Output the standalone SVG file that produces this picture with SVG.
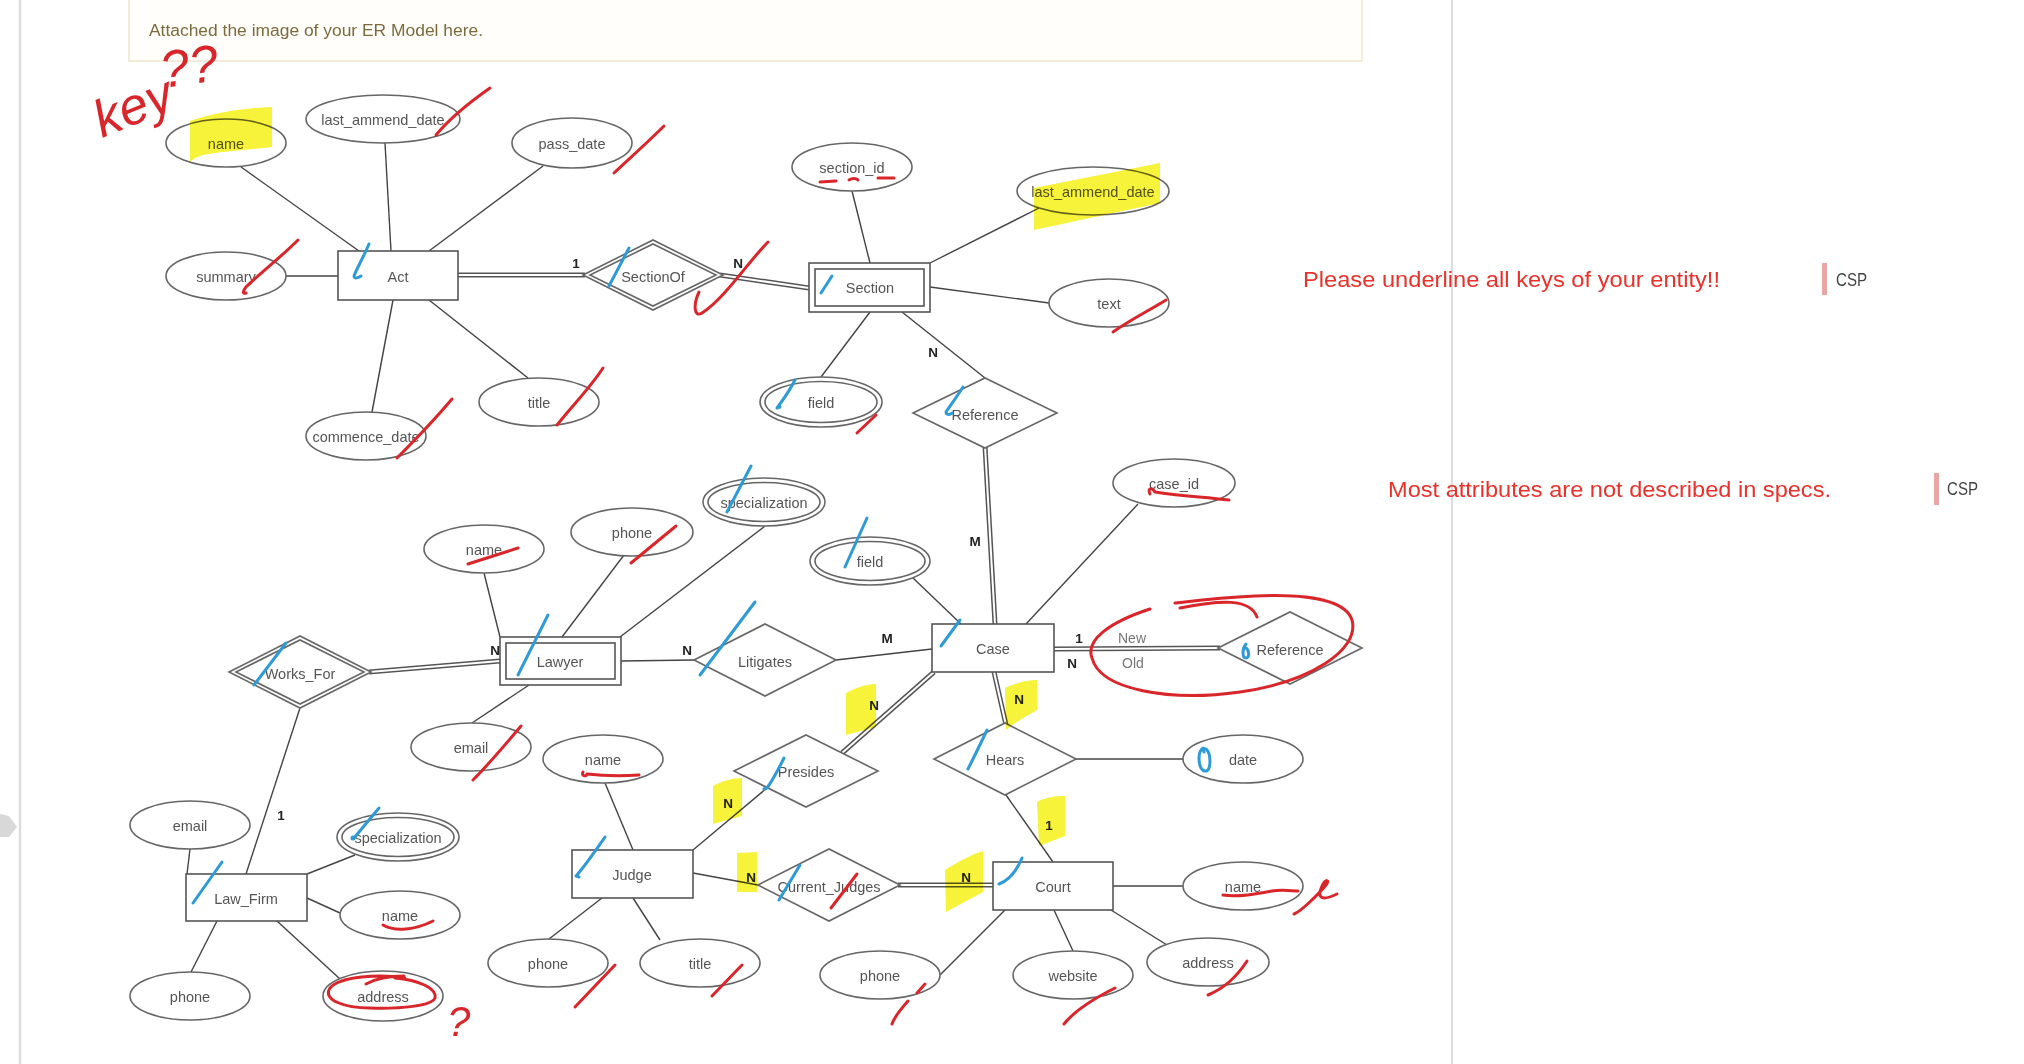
<svg xmlns="http://www.w3.org/2000/svg" width="2024" height="1064" viewBox="0 0 2024 1064">
<style>
.ent{fill:#fff;stroke:#555;stroke-width:1.6}
.attr{fill:#fff;stroke:#666;stroke-width:1.6}
.rel{fill:#fff;stroke:#666;stroke-width:1.6}
.t{font-family:"Liberation Sans",Arial,sans-serif;font-size:14.5px;fill:#555;text-anchor:middle;dominant-baseline:central}
.lbl{font-family:"Liberation Sans",Arial,sans-serif;font-size:13.5px;font-weight:bold;fill:#222;text-anchor:middle;dominant-baseline:central}
.role{font-family:"Liberation Sans",Arial,sans-serif;font-size:14px;fill:#777;text-anchor:middle;dominant-baseline:central}
.ln{stroke:#444;stroke-width:1.4;fill:none}
.dbo{stroke:#555;stroke-width:5;fill:none}
.dbi{stroke:#fff;stroke-width:2;fill:none}
.red{stroke:#d9262b;stroke-width:3;fill:none;stroke-linecap:round;stroke-linejoin:round}
.blue{stroke:#2e9ad6;stroke-width:3;fill:none;stroke-linecap:round;stroke-linejoin:round}
.hl{fill:#f7f23a;mix-blend-mode:multiply}
.note{font-family:"Liberation Sans",Arial,sans-serif;font-size:22px;fill:#e8322b}
.csp{font-family:"Liberation Sans",Arial,sans-serif;font-size:18px;fill:#444}
.hand{font-family:"Liberation Sans",Arial,sans-serif;font-style:italic;fill:#d9262b}
</style>
<rect width="2024" height="1064" fill="#fff"/>
<!-- page chrome -->
<line x1="20" y1="0" x2="20" y2="1064" stroke="#ddd" stroke-width="2.5"/>
<line x1="1452" y1="0" x2="1452" y2="1064" stroke="#ddd" stroke-width="2"/>
<polygon points="0,814 9,816 17,827 9,837 0,837" fill="#d8d8d8"/>
<rect x="129" y="-2" width="1233" height="63" fill="#fffefb" stroke="#f1e6cf" stroke-width="1.5"/>
<text x="149" y="36" font-family="Liberation Sans,Arial,sans-serif" font-size="16" fill="#7d6a3c" textLength="334" lengthAdjust="spacingAndGlyphs">Attached the image of your ER Model here.</text>

<!-- comments -->
<text class="note" x="1303" y="287" textLength="417" lengthAdjust="spacingAndGlyphs">Please underline all keys of your entity!!</text>
<rect x="1822" y="263" width="5" height="32" fill="#e9a6a6"/>
<text class="csp" x="1836" y="286" textLength="31" lengthAdjust="spacingAndGlyphs">CSP</text>
<text class="note" x="1388" y="497" textLength="443" lengthAdjust="spacingAndGlyphs">Most attributes are not described in specs.</text>
<rect x="1934" y="473" width="5" height="32" fill="#e9a6a6"/>
<text class="csp" x="1947" y="495" textLength="31" lengthAdjust="spacingAndGlyphs">CSP</text>

<!-- connectors -->
<g id="connectors">
<line class="ln" x1="241" y1="167" x2="359" y2="251"/>
<line class="ln" x1="385" y1="143" x2="391" y2="251"/>
<line class="ln" x1="543" y1="166" x2="429" y2="251"/>
<line class="ln" x1="286" y1="276" x2="338" y2="276"/>
<line class="ln" x1="372" y1="412" x2="393" y2="300"/>
<line class="ln" x1="528" y1="378" x2="429" y2="300"/>
<line class="dbo" x1="458" y1="275" x2="585" y2="275"/><line class="dbi" x1="458" y1="275" x2="585" y2="275"/>
<line class="dbo" x1="720" y1="275" x2="809" y2="288"/><line class="dbi" x1="720" y1="275" x2="809" y2="288"/>
<line class="ln" x1="852" y1="191" x2="870" y2="263"/>
<line class="ln" x1="1039" y1="208" x2="930" y2="263"/>
<line class="ln" x1="930" y1="287" x2="1049" y2="303"/>
<line class="ln" x1="821" y1="377" x2="870" y2="312"/>
<line class="ln" x1="902" y1="312" x2="985" y2="378"/>
<line class="dbo" x1="985" y1="446" x2="995" y2="624"/><line class="dbi" x1="985" y1="446" x2="995" y2="624"/>
<line class="ln" x1="1138" y1="504" x2="1026" y2="624"/>
<line class="ln" x1="912" y1="577" x2="961" y2="624"/>
<line class="ln" x1="836" y1="660" x2="932" y2="649"/>
<line class="dbo" x1="1054" y1="649" x2="1220" y2="648"/><line class="dbi" x1="1054" y1="649" x2="1220" y2="648"/>
<line class="dbo" x1="934" y1="672" x2="842" y2="753"/><line class="dbi" x1="934" y1="672" x2="842" y2="753"/>
<line class="dbo" x1="994" y1="672" x2="1006" y2="725"/><line class="dbi" x1="994" y1="672" x2="1006" y2="725"/>
<line class="ln" x1="484" y1="573" x2="500" y2="637"/>
<line class="ln" x1="624" y1="555" x2="562" y2="637"/>
<line class="ln" x1="765" y1="526" x2="620" y2="637"/>
<line class="ln" x1="472" y1="723" x2="529" y2="685"/>
<line class="ln" x1="621" y1="661" x2="694" y2="660"/>
<line class="dbo" x1="369" y1="672" x2="500" y2="661"/><line class="dbi" x1="369" y1="672" x2="500" y2="661"/>
<line class="ln" x1="300" y1="708" x2="246" y2="874"/>
<line class="ln" x1="190" y1="849" x2="187" y2="874"/>
<line class="ln" x1="355" y1="855" x2="307" y2="874"/>
<line class="ln" x1="340" y1="913" x2="307" y2="898"/>
<line class="ln" x1="191" y1="972" x2="217" y2="921"/>
<line class="ln" x1="340" y1="979" x2="277" y2="921"/>
<line class="ln" x1="605" y1="783" x2="633" y2="850"/>
<line class="ln" x1="549" y1="939" x2="602" y2="898"/>
<line class="ln" x1="660" y1="940" x2="633" y2="898"/>
<line class="ln" x1="693" y1="850" x2="767" y2="788"/>
<line class="ln" x1="693" y1="873" x2="758" y2="885"/>
<line class="dbo" x1="898" y1="885" x2="993" y2="885"/><line class="dbi" x1="898" y1="885" x2="993" y2="885"/>
<line class="ln" x1="1076" y1="759" x2="1183" y2="759"/>
<line class="ln" x1="1006" y1="795" x2="1053" y2="862"/>
<line class="ln" x1="1113" y1="886" x2="1183" y2="886"/>
<line class="ln" x1="1167" y1="945" x2="1111" y2="910"/>
<line class="ln" x1="1073" y1="951" x2="1054" y2="910"/>
<line class="ln" x1="940" y1="975" x2="1005" y2="910"/>
<!-- cardinality labels -->
<text class="lbl" x="576" y="263">1</text>
<text class="lbl" x="738" y="263">N</text>
<text class="lbl" x="933" y="352">N</text>
<text class="lbl" x="975" y="541">M</text>
<text class="lbl" x="495" y="650">N</text>
<text class="lbl" x="281" y="815">1</text>
<text class="lbl" x="687" y="650">N</text>
<text class="lbl" x="887" y="638">M</text>
<text class="lbl" x="1079" y="638">1</text>
<text class="lbl" x="1072" y="663">N</text>
<text class="role" x="1132" y="638">New</text>
<text class="role" x="1133" y="663">Old</text>
<text class="lbl" x="874" y="705">N</text>
<text class="lbl" x="1019" y="699">N</text>
<text class="lbl" x="728" y="803">N</text>
<text class="lbl" x="1049" y="825">1</text>
<text class="lbl" x="751" y="877">N</text>
<text class="lbl" x="966" y="877">N</text>
</g>

<!-- entities -->
<g id="act"><rect class="ent" x="338" y="251" width="120" height="49"/><text class="t" x="398" y="277">Act</text></g>
<g id="section"><rect class="ent" x="809" y="263" width="121" height="49"/><rect class="ent" x="815" y="269" width="109" height="37"/><text class="t" x="870" y="288">Section</text></g>
<g id="lawyer"><rect class="ent" x="500" y="637" width="121" height="48"/><rect class="ent" x="506" y="643" width="109" height="36"/><text class="t" x="560" y="662">Lawyer</text></g>
<g id="case"><rect class="ent" x="932" y="624" width="122" height="48"/><text class="t" x="993" y="649">Case</text></g>
<g id="law_firm"><rect class="ent" x="186" y="874" width="121" height="47"/><text class="t" x="246" y="899">Law_Firm</text></g>
<g id="judge"><rect class="ent" x="572" y="850" width="121" height="48"/><text class="t" x="632" y="875">Judge</text></g>
<g id="court"><rect class="ent" x="993" y="862" width="120" height="48"/><text class="t" x="1053" y="887">Court</text></g>

<!-- relationships -->
<g id="sectionof"><polygon class="rel" points="583,275 653,240 723,275 653,310"/><polygon class="rel" points="590,275 653,244 716,275 653,306"/><text class="t" x="653" y="277">SectionOf</text></g>
<g id="reference_top"><polygon class="rel" points="913,413 985,378 1057,413 985,448"/><text class="t" x="985" y="415">Reference</text></g>
<g id="works_for"><polygon class="rel" points="229,672 300,636 371,672 300,708"/><polygon class="rel" points="236,672 300,640 364,672 300,704"/><text class="t" x="300" y="674">Works_For</text></g>
<g id="litigates"><polygon class="rel" points="694,660 765,624 836,660 765,696"/><text class="t" x="765" y="662">Litigates</text></g>
<g id="presides"><polygon class="rel" points="734,771 806,735 878,771 806,807"/><text class="t" x="806" y="772">Presides</text></g>
<g id="hears"><polygon class="rel" points="934,759 1005,723 1076,759 1005,795"/><text class="t" x="1005" y="760">Hears</text></g>
<g id="current_judges"><polygon class="rel" points="758,885 829,849 900,885 829,921"/><text class="t" x="829" y="887">Current_Judges</text></g>
<g id="reference_right"><polygon class="rel" points="1218,648 1290,612 1362,648 1290,684"/><text class="t" x="1290" y="650">Reference</text></g>

<!-- attributes -->
<g id="act_name"><ellipse class="attr" cx="226" cy="143" rx="60" ry="24"/><text class="t" x="226" y="144">name</text></g>
<g id="act_last_ammend_date"><ellipse class="attr" cx="383" cy="119" rx="77" ry="24"/><text class="t" x="383" y="120">last_ammend_date</text></g>
<g id="act_pass_date"><ellipse class="attr" cx="572" cy="143" rx="60" ry="25"/><text class="t" x="572" y="144">pass_date</text></g>
<g id="act_summary"><ellipse class="attr" cx="226" cy="276" rx="60" ry="24"/><text class="t" x="226" y="277">summary</text></g>
<g id="act_commence_date"><ellipse class="attr" cx="366" cy="436" rx="60" ry="24"/><text class="t" x="366" y="437">commence_date</text></g>
<g id="act_title"><ellipse class="attr" cx="539" cy="402" rx="60" ry="24"/><text class="t" x="539" y="403">title</text></g>
<g id="section_id"><ellipse class="attr" cx="852" cy="167" rx="60" ry="24"/><text class="t" x="852" y="168">section_id</text></g>
<g id="section_last_ammend_date"><ellipse class="attr" cx="1093" cy="191" rx="76" ry="24"/><text class="t" x="1093" y="192">last_ammend_date</text></g>
<g id="section_text"><ellipse class="attr" cx="1109" cy="303" rx="60" ry="24"/><text class="t" x="1109" y="304">text</text></g>
<g id="section_field"><ellipse class="attr" cx="821" cy="402" rx="61" ry="25"/><ellipse class="attr" cx="821" cy="402" rx="56" ry="20.5"/><text class="t" x="821" y="403">field</text></g>
<g id="case_id"><ellipse class="attr" cx="1174" cy="483" rx="61" ry="24"/><text class="t" x="1174" y="484">case_id</text></g>
<g id="case_field"><ellipse class="attr" cx="870" cy="561" rx="60" ry="24"/><ellipse class="attr" cx="870" cy="561" rx="55" ry="19.5"/><text class="t" x="870" y="562">field</text></g>
<g id="lawyer_specialization"><ellipse class="attr" cx="764" cy="502" rx="61" ry="24"/><ellipse class="attr" cx="764" cy="502" rx="56" ry="19.5"/><text class="t" x="764" y="503">specialization</text></g>
<g id="lawyer_name"><ellipse class="attr" cx="484" cy="549" rx="60" ry="24"/><text class="t" x="484" y="550">name</text></g>
<g id="lawyer_phone"><ellipse class="attr" cx="632" cy="532" rx="61" ry="24"/><text class="t" x="632" y="533">phone</text></g>
<g id="lawyer_email"><ellipse class="attr" cx="471" cy="747" rx="60" ry="24"/><text class="t" x="471" y="748">email</text></g>
<g id="lf_email"><ellipse class="attr" cx="190" cy="825" rx="60" ry="24"/><text class="t" x="190" y="826">email</text></g>
<g id="lf_specialization"><ellipse class="attr" cx="398" cy="837" rx="61" ry="24"/><ellipse class="attr" cx="398" cy="837" rx="56" ry="19.5"/><text class="t" x="398" y="838">specialization</text></g>
<g id="lf_name"><ellipse class="attr" cx="400" cy="915" rx="60" ry="24"/><text class="t" x="400" y="916">name</text></g>
<g id="lf_phone"><ellipse class="attr" cx="190" cy="996" rx="60" ry="24"/><text class="t" x="190" y="997">phone</text></g>
<g id="lf_address"><ellipse class="attr" cx="383" cy="996" rx="60" ry="25"/><text class="t" x="383" y="997">address</text></g>
<g id="judge_name"><ellipse class="attr" cx="603" cy="759" rx="60" ry="24"/><text class="t" x="603" y="760">name</text></g>
<g id="judge_phone"><ellipse class="attr" cx="548" cy="963" rx="60" ry="24"/><text class="t" x="548" y="964">phone</text></g>
<g id="judge_title"><ellipse class="attr" cx="700" cy="963" rx="60" ry="24"/><text class="t" x="700" y="964">title</text></g>
<g id="hears_date"><ellipse class="attr" cx="1243" cy="759" rx="60" ry="24"/><text class="t" x="1243" y="760">date</text></g>
<g id="court_name"><ellipse class="attr" cx="1243" cy="886" rx="60" ry="24"/><text class="t" x="1243" y="887">name</text></g>
<g id="court_address"><ellipse class="attr" cx="1208" cy="962" rx="61" ry="24"/><text class="t" x="1208" y="963">address</text></g>
<g id="court_website"><ellipse class="attr" cx="1073" cy="975" rx="60" ry="24"/><text class="t" x="1073" y="976">website</text></g>
<g id="court_phone"><ellipse class="attr" cx="880" cy="975" rx="60" ry="24"/><text class="t" x="880" y="976">phone</text></g>

<!-- highlighter -->
<g id="highlights">
<path class="hl" d="M190,121 C215,112 245,108 272,107 L272,147 C245,150 215,152 203,155 C196,157 192,160 190,162 Z"/>
<path class="hl" d="M1034,188 L1160,163 L1160,203 L1034,230 Z"/>
<path class="hl" d="M846,693 C855,688 866,684 876,684 L876,727 L846,735 Z"/>
<path class="hl" d="M1005,688 C1015,683 1027,680 1037,680 L1037,710 C1027,716 1015,722 1006,730 Z"/>
<path class="hl" d="M713,786 C722,781 732,778 742,778 L742,816 L713,824 Z"/>
<path class="hl" d="M1037,802 C1046,797 1056,796 1065,796 L1065,836 L1039,846 Z"/>
<path class="hl" d="M737,853 L757,852 L757,892 L737,892 Z"/>
<path class="hl" d="M945,870 C958,862 970,855 983,851 L983,892 L946,912 Z"/>
</g>

<!-- blue marks -->
<g id="blue-marks">
<path class="blue" d="M369,244 C364,256 357,268 354,276 C354,279 358,278 361,276"/>
<path class="blue" d="M629,248 L609,286"/>
<path class="blue" d="M832,276 L821,293"/>
<path class="blue" d="M795,380 C789,392 783,400 777,408 L780,407"/>
<path class="blue" d="M963,387 C956,398 950,406 946,412 C946,415 950,415 952,413"/>
<path class="blue" d="M751,466 L727,512"/>
<path class="blue" d="M867,518 L845,567"/>
<path class="blue" d="M755,602 L700,675"/>
<path class="blue" d="M960,620 L941,646"/>
<path class="blue" d="M548,615 L518,675"/>
<path class="blue" d="M286,643 L254,685"/>
<path class="blue" d="M784,758 C779,768 773,780 767,788 L764,789"/>
<path class="blue" d="M987,730 C980,745 974,757 968,769"/>
<path class="blue" d="M1203,748 C1197,752 1198,770 1205,771 C1212,772 1211,753 1206,749 C1204,748 1203,750 1204,752"/>
<path class="blue" d="M1246,644 C1242,648 1242,658 1246,658 C1250,658 1249,650 1246,648"/>
<path class="blue" d="M605,837 C596,850 585,866 576,876 L579,877"/>
<path class="blue" d="M800,865 L779,900"/>
<path class="blue" d="M1022,858 C1017,870 1010,880 999,884 L1003,882"/>
<path class="blue" d="M222,862 L193,903"/>
<path class="blue" d="M379,808 L354,838"/>
<circle cx="353" cy="838" r="2.5" fill="#2e9ad6"/>
</g>

<!-- red marks -->
<g id="red-marks">
<path class="red" d="M490,88 C470,102 450,118 436,135"/>
<path class="red" d="M664,126 C648,142 630,158 614,173"/>
<path class="red" d="M298,240 C280,258 258,275 246,287 C242,292 243,294 246,293"/>
<path class="red" d="M603,368 C590,388 572,406 557,425"/>
<path class="red" d="M452,399 C436,418 415,440 397,458"/>
<path class="red" d="M768,242 C748,262 725,298 702,313 C694,318 693,305 699,292"/>
<path class="red" d="M820,182 L836,181 M849,180 C852,178 856,178 858,180 M878,178 L894,178"/>
<path class="red" d="M1166,300 C1150,310 1130,320 1113,332"/>
<path class="red" d="M876,415 L857,433"/>
<path class="red" d="M1150,494 C1147,488 1152,487 1155,492 C1180,496 1205,497 1229,500"/>
<path class="red" d="M468,564 L518,548"/>
<path class="red" d="M676,526 L631,563"/>
<path class="red" d="M521,726 C505,745 488,765 473,780"/>
<path class="red" d="M583,772 C581,776 586,777 587,774 C605,776 622,776 639,775"/>
<path class="red" d="M615,965 L575,1007"/>
<path class="red" d="M742,965 L712,996"/>
<path class="red" d="M383,925 C395,932 415,930 433,921"/>
<path class="red" d="M405,978 C380,974 340,976 330,988 C322,1000 345,1008 370,1008 C400,1009 432,1006 435,998 C437,988 418,980 395,978 M366,984 C375,979 388,976 404,976"/>
<path class="red" d="M857,874 L831,908"/>
<path class="red" d="M925,984 L917,993 M908,1001 C900,1010 894,1018 892,1024"/>
<path class="red" d="M1115,988 C1095,998 1075,1010 1064,1024"/>
<path class="red" d="M1247,961 C1238,975 1225,988 1208,995"/>
<path class="red" d="M1223,895 C1240,898 1260,893 1272,891 C1283,889 1292,891 1298,891"/>
<path class="red" d="M1294,914 C1300,912 1318,895 1326,885 C1330,880 1326,878 1322,886 C1318,895 1318,903 1337,894"/>
<path class="red" stroke-width="2" d="M1150,609 C1110,622 1085,640 1092,658 C1100,690 1170,702 1240,692 C1310,682 1360,650 1352,620 C1345,598 1300,594 1255,596 C1215,598 1185,602 1175,603 M1180,608 C1220,600 1250,598 1257,617"/>
<text class="hand" x="102" y="138" font-size="52" transform="rotate(-22 102 138)">key</text>
<text class="hand" x="163" y="88" font-size="52" transform="rotate(-8 163 88)">??</text>
<text class="hand" x="447" y="1036" font-size="42">?</text>
</g>
</svg>
